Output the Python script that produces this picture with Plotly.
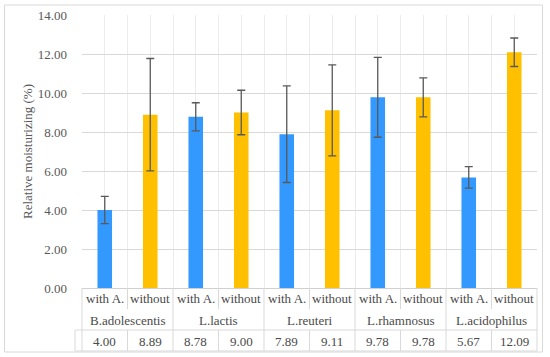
import plotly.graph_objects as go

# ---- data ----
groups = ["B.adolescentis", "L.lactis", "L.reuteri", "L.rhamnosus", "L.acidophilus"]
subs = ["with A.", "without"]
with_vals = [4.00, 8.78, 7.89, 9.78, 5.67]
with_err = [0.70, 0.72, 2.48, 2.05, 0.55]
without_vals = [8.89, 9.00, 9.11, 9.78, 12.09]
without_err = [2.88, 1.14, 2.33, 1.00, 0.73]
y_ticks = [0, 2, 4, 6, 8, 10, 12, 14]

W, H = 550, 357
L, R, T, B = 82, 13, 15, 69
PW, PH = W - L - R, H - T - B
XMIN, XMAX = -0.5, 2 * len(groups) - 0.5


def px_x(p):
    return (p - L) / PW


def px_y(p):
    return (H - B - p) / PH


def dx(v):
    return (v - XMIN) / (XMAX - XMIN)


n = len(groups)
x_with = [2 * i for i in range(n)]
x_without = [2 * i + 1 for i in range(n)]

BLUE = "#3399FF"
ORANGE = "#FFC000"
ERRC = "#595959"
TXT = "#4a4a4a"
LINE = "#d9d9d9"
FONT = "Liberation Serif"

fig = go.Figure()
fig.add_trace(go.Bar(
    x=x_with, y=with_vals, width=0.32, marker=dict(color=BLUE, line=dict(width=0)),
    error_y=dict(type="data", array=with_err, color=ERRC, thickness=1.3, width=4),
    name=subs[0], showlegend=False, hoverinfo="skip"))
fig.add_trace(go.Bar(
    x=x_without, y=without_vals, width=0.32, marker=dict(color=ORANGE, line=dict(width=0)),
    error_y=dict(type="data", array=without_err, color=ERRC, thickness=1.3, width=4),
    name=subs[1], showlegend=False, hoverinfo="skip"))

shapes = []
# outer border
shapes.append(dict(type="rect", xref="paper", yref="paper",
                   x0=px_x(4.5), x1=px_x(542.5), y0=px_y(352), y1=px_y(5),
                   line=dict(color=LINE, width=1), layer="below"))

tl = dict(color=LINE, width=1)
y_row1_bot = px_y(309)
y_row2_bot = px_y(330)
y_tab_bot = px_y(351)
y_axis = px_y(288)

# data table horizontal lines
shapes.append(dict(type="line", xref="paper", yref="paper", x0=px_x(75), x1=1,
                   y0=y_row2_bot, y1=y_row2_bot, line=tl))
shapes.append(dict(type="line", xref="paper", yref="paper", x0=px_x(75), x1=1,
                   y0=y_tab_bot, y1=y_tab_bot, line=tl))
shapes.append(dict(type="line", xref="paper", yref="paper", x0=px_x(75), x1=px_x(75),
                   y0=y_row2_bot, y1=y_tab_bot, line=tl))
# vertical separators
for k in range(2 * n + 1):
    xv = dx(k - 0.5)
    if k % 2 == 0:
        shapes.append(dict(type="line", xref="paper", yref="paper", x0=xv, x1=xv,
                           y0=y_axis, y1=y_tab_bot, line=tl))
    else:
        shapes.append(dict(type="line", xref="paper", yref="paper", x0=xv, x1=xv,
                           y0=y_axis, y1=y_row1_bot, line=tl))
        shapes.append(dict(type="line", xref="paper", yref="paper", x0=xv, x1=xv,
                           y0=y_row2_bot, y1=y_tab_bot, line=tl))

annotations = []
all_x = []
all_v = []
fnt = dict(family=FONT, size=13, color=TXT)
for i in range(n):
    all_x += [x_with[i], x_without[i]]
    all_v += [with_vals[i], without_vals[i]]
    annotations.append(dict(x=x_with[i], y=px_y(298.5), xref="x", yref="paper", text=subs[0],
                            showarrow=False, font=fnt, xanchor="center", yanchor="middle"))
    annotations.append(dict(x=x_without[i], y=px_y(298.5), xref="x", yref="paper", text=subs[1],
                            showarrow=False, font=fnt, xanchor="center", yanchor="middle"))
    annotations.append(dict(x=x_with[i] + 0.5, y=px_y(320), xref="x", yref="paper", text=groups[i],
                            showarrow=False, font=fnt, xanchor="center", yanchor="middle"))
for xv, v in zip(all_x, all_v):
    annotations.append(dict(x=xv, y=px_y(341), xref="x", yref="paper", text=f"{v:.2f}",
                            showarrow=False, font=fnt, xanchor="center", yanchor="middle"))

fig.update_layout(
    width=W, height=H,
    margin=dict(l=L, r=R, t=T, b=B, autoexpand=False),
    paper_bgcolor="white", plot_bgcolor="white",
    font=dict(family=FONT, size=13, color=TXT),
    barmode="overlay",
    hovermode=False,
    shapes=shapes,
    annotations=annotations,
    xaxis=dict(range=[XMIN, XMAX], tick0=XMIN, dtick=0.5, showticklabels=False,
               showgrid=True, gridcolor="#ececec", gridwidth=1, zeroline=False,
               showline=True, linecolor="#d0d0d0", linewidth=1, ticks="", fixedrange=True),
    yaxis=dict(range=[0, 14], tickvals=y_ticks, tickformat=".2f",
               showgrid=True, gridcolor=LINE, gridwidth=1, zeroline=False,
               showline=False, ticks="", ticklabelstandoff=14, fixedrange=True,
               tickfont=dict(family=FONT, size=13, color="#595959"),
               title=dict(text="Relative moisturizing (%)", standoff=2,
                          font=dict(family=FONT, size=13, color="#595959"))),
)

fig.write_html("out.html", config=dict(displayModeBar=False, staticPlot=True),
               post_script="document.body.style.margin='0';document.body.style.padding='0';")
